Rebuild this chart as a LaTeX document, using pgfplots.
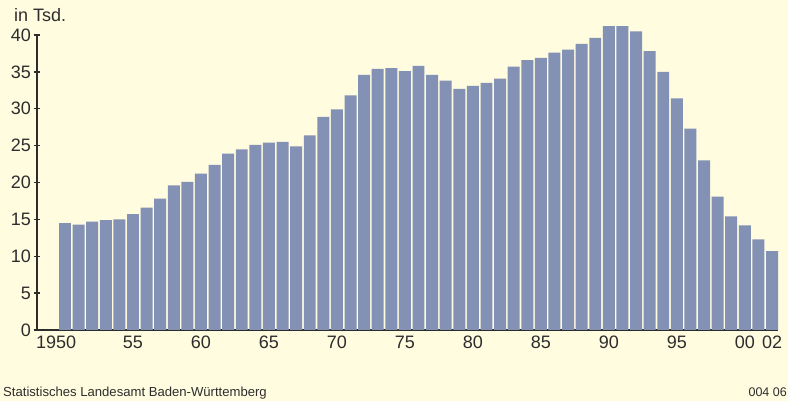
\documentclass[border=0pt]{standalone}
\usepackage{pgfplots}
\pgfplotsset{compat=1.18}
\usepackage{fontspec}
\setmainfont{Liberation Sans}
\definecolor{bg}{RGB}{255,252,224}
\definecolor{barc}{RGB}{131,145,180}
\definecolor{axc}{RGB}{45,45,45}
\pgfplotstableread{
year val
1950 14.5
1951 14.3
1952 14.7
1953 14.9
1954 15.0
1955 15.7
1956 16.6
1957 17.8
1958 19.6
1959 20.1
1960 21.2
1961 22.4
1962 23.9
1963 24.5
1964 25.1
1965 25.4
1966 25.5
1967 24.9
1968 26.4
1969 28.9
1970 29.9
1971 31.8
1972 34.6
1973 35.4
1974 35.5
1975 35.1
1976 35.8
1977 34.6
1978 33.8
1979 32.7
1980 33.1
1981 33.5
1982 34.1
1983 35.7
1984 36.6
1985 36.9
1986 37.6
1987 38.0
1988 38.8
1989 39.6
1990 41.2
1991 41.2
1992 40.5
1993 37.8
1994 35.0
1995 31.4
1996 27.3
1997 23.0
1998 18.1
1999 15.4
2000 14.2
2001 12.3
2002 10.7
}\births
\begin{document}
\begin{tikzpicture}
\fill[bg] (-37pt,-71pt) rectangle (751pt,330pt);
\begin{axis}[
 at={(0,0)}, anchor=south west,
 scale only axis, width=741pt, height=295pt,
 xmin=1947.94, xmax=2002.44, ymin=0, ymax=40,
 clip=false,
 axis x line*=bottom, axis y line*=left,
 axis line style={axc, line width=1.6pt, -},
 ytick={0,5,10,15,20,25,30,35,40},
 xtick={1949.35,1955,1960,1965,1970,1975,1980,1985,1990,1995,2000,2002},
 xticklabels={1950,55,60,65,70,75,80,85,90,95,00,02},
 major x tick style={draw=none},
 major y tick style={axc, line width=1.4pt},
 tick align=center, major tick length=7pt,
 /pgf/number format/assume math mode=true,
 ticklabel style={font=\fontsize{18}{20}\selectfont, text=axc},
 yticklabel style={xshift=1pt},
 xticklabel style={yshift=1pt},
]
\addplot[ybar, bar width=0.88, fill=barc, draw=none] table[x=year, y=val] {\births};
\end{axis}
\node[anchor=base west, inner sep=0, font=\fontsize{18}{20}\selectfont, text=axc] at (-23pt,308pt) {in Tsd.};
\node[anchor=base west, inner sep=0, font=\fontsize{13.1}{15}\selectfont, text=axc] at (-34pt,-67pt) {Statistisches Landesamt Baden-Württemberg};
\node[anchor=base east, inner sep=0, font=\fontsize{12.5}{14}\selectfont, text=axc] at (750pt,-67pt) {004 06};
\pgfresetboundingbox
\useasboundingbox (-37pt,-71pt) rectangle (751pt,330pt);
\end{tikzpicture}
\end{document}
